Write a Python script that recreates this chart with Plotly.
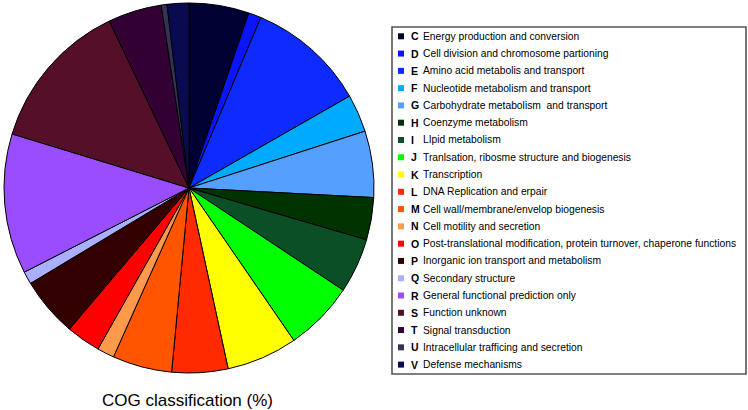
import plotly.graph_objects as go

codes = ["C", "D", "E", "F", "G", "H", "I", "J", "K", "L",
         "M", "N", "O", "P", "Q", "R", "S", "T", "U", "V"]
names = [
    "Energy production and conversion",
    "Cell division and chromosome partioning",
    "Amino acid metabolis and transport",
    "Nucleotide metabolism and transport",
    "Carbohydrate metabolism  and transport",
    "Coenzyme metabolism",
    "LIpid metabolism",
    "Tranlsation, ribosme structure and biogenesis",
    "Transcription",
    "DNA Replication and erpair",
    "Cell wall/membrane/envelop biogenesis",
    "Cell motility and secretion",
    "Post-translational modification, protein turnover, chaperone functions",
    "Inorganic ion transport and metabolism",
    "Secondary structure",
    "General functional prediction only",
    "Function unknown",
    "Signal transduction",
    "Intracellular trafficing and secretion",
    "Defense mechanisms",
]
values = [5.25, 1.1, 10.4, 3.3, 5.8, 3.7, 4.8, 6.1, 6.2, 4.9,
          5.2, 1.5, 3.0, 5.2, 1.1, 12.25, 13.2, 4.7, 0.5, 1.9]
colors = ["#000033", "#0a14ff", "#0d2bff", "#00aaff", "#55a0ff",
          "#003300", "#0a4f25", "#00ff00", "#ffff00", "#ff2a00",
          "#ff5500", "#ff9a4d", "#ff0000", "#330000", "#aab0ff",
          "#9a4dff", "#550f28", "#330033", "#333355", "#0a0a50"]

W, H = 748, 410

fig = go.Figure(go.Pie(
    labels=[f"{c} {n}" for c, n in zip(codes, names)],
    values=values,
    sort=False,
    direction="clockwise",
    rotation=0,
    textinfo="none",
    hoverinfo="label+percent",
    showlegend=False,
    marker=dict(colors=colors, line=dict(color="#000000", width=1)),
    domain=dict(x=[4 / W, 374 / W], y=[1 - 373 / H, 1 - 3 / H]),
))

# Hand-drawn legend box (layout decoration)
def px(x):
    return x / W

def py(y):
    return 1 - y / H

shapes = [dict(type="rect", xref="paper", yref="paper",
               x0=px(392), x1=px(746), y0=py(374), y1=py(27),
               line=dict(color="#555555", width=1.6), fillcolor="white",
               layer="below")]
annotations = []
row0, pitch = 36.3, 17.28
for i, (c, n, col) in enumerate(zip(codes, names, colors)):
    yc = row0 + pitch * i
    shapes.append(dict(type="rect", xref="paper", yref="paper",
                       x0=px(398), x1=px(404), y0=py(yc + 3), y1=py(yc - 3),
                       line=dict(width=0), fillcolor=col))
    annotations.append(dict(text=f"<b>{c}</b>", x=px(408.5), y=py(yc),
                            xref="paper", yref="paper", xanchor="left",
                            yanchor="middle", showarrow=False,
                            font=dict(size=10.5, color="#000000")))
    annotations.append(dict(text=n, x=px(421), y=py(yc),
                            xref="paper", yref="paper", xanchor="left",
                            yanchor="middle", showarrow=False,
                            font=dict(size=10.3, color="#000000")))

annotations.append(dict(
    text="COG classification (%)",
    x=px(187), y=py(400), xref="paper", yref="paper",
    xanchor="center", yanchor="middle", showarrow=False,
    font=dict(size=17, color="#000000"),
))

fig.update_layout(
    width=W, height=H,
    margin=dict(l=0, r=0, t=0, b=0),
    paper_bgcolor="white",
    plot_bgcolor="white",
    font=dict(family="Liberation Sans, Arial, sans-serif", color="#000000"),
    showlegend=False,
    shapes=shapes,
    annotations=annotations,
)

fig.write_html("out.html",
               config={"displayModeBar": False},
               post_script="document.body.style.margin='0';document.body.style.padding='0';")
